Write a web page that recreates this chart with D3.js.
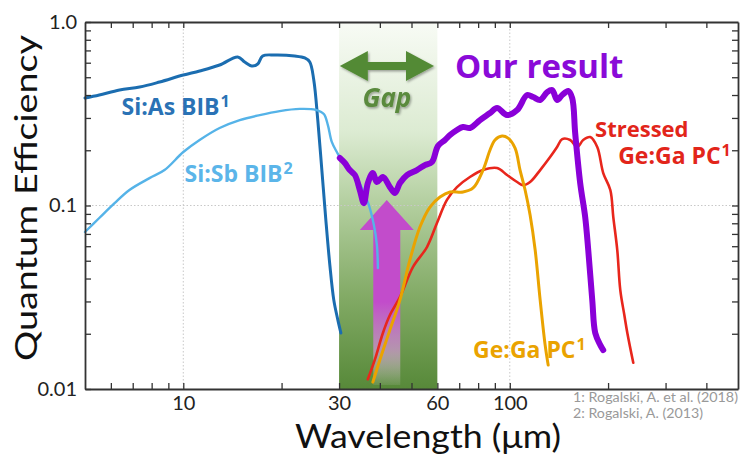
<!DOCTYPE html>
<html>
<head>
<meta charset="utf-8">
<script src="https://cdn.jsdelivr.net/npm/d3@7"></script>
<style>
  body { margin: 0; background: #fff; }
  text { font-family: Lato, "DejaVu Sans", sans-serif; }
  .lbl { font-family: "Open Sans", "Noto Sans", sans-serif; font-weight: 700; }
</style>
</head>
<body>
<svg id="chart" width="740" height="455"></svg>
<script>
// wavelength (um), quantum efficiency
const siAs = [[5.0,0.385],[5.53,0.400],[6.38,0.426],[7.35,0.442],[8.46,0.471],[10,0.514],[11.22,0.541],
  [12.92,0.583],[14.68,0.645],[15.42,0.605],[16.2,0.576],[16.9,0.590],[17.5,0.653],[19.06,0.661],
  [21.94,0.653],[23.55,0.637],[24.4,0.605],[25.1,0.483],[25.82,0.292],[26.57,0.156],[27.33,0.0833],
  [28.11,0.0474],[28.9,0.0306],[29.74,0.0238],[30.38,0.0202]];

const siSb = [[5.0,0.0717],[5.53,0.0855],[6.16,0.103],[6.84,0.1215],[7.88,0.141],[8.76,0.156],[10,0.1956],
  [11.22,0.2275],[12.92,0.2645],[14.89,0.292],[17.14,0.311],[19.74,0.327],[22.74,0.336],[25.46,0.332],
  [26.94,0.315],[27.71,0.275],[28.5,0.222],[29.53,0.1956],[31.25,0.166],[33.54,0.1466],[35.48,0.1215],
  [37.02,0.1006],[38.35,0.0783],[39.17,0.061],[39.45,0.0456]];

const ourResult = [[30.16,0.1815],[31.25,0.1704],[32.36,0.156],[33.54,0.1466],[34.73,0.1215],[35.73,0.103],
  [36.76,0.1326],[38.07,0.1503],[39.17,0.1343],[40.87,0.143],[42.94,0.126],[44.5,0.117],[46.08,0.1326],
  [48.42,0.1466],[51.95,0.156],[54.97,0.166],[57.75,0.1726],[60.26,0.211],[63.31,0.2275],[65.6,0.242],
  [68.9,0.258],[71.9,0.268],[75.5,0.2645],[81.06,0.292],[87.0,0.319],[91.4,0.340],[98.1,0.311],
  [105.3,0.331],[113.0,0.400],[117.9,0.390],[123.9,0.376],[130.2,0.415],[134.8,0.426],[139.6,0.376],
  [144.7,0.400],[151.0,0.421],[155.3,0.385],[158.6,0.248],[164.3,0.1326],[170.2,0.0865],[173.9,0.0572],
  [178.9,0.0305],[182.7,0.0202],[189.2,0.0174],[193.3,0.0163]];

const geGa = [[38.07,0.0109],[39.99,0.0144],[42.94,0.0210],[46.08,0.0305],[49.44,0.0505],[53.06,0.0763],
  [56.96,0.0981],[61.13,0.1112],[65.6,0.1184],[71.9,0.1184],[77.2,0.1246],[82.8,0.156],[87.0,0.2006],
  [90.1,0.2275],[94.7,0.239],[98.8,0.233],[103.8,0.2056],[107.5,0.156],[111.4,0.1215],[115.4,0.0887],
  [119.6,0.0572],[123.9,0.0305],[128.3,0.0174],[131.1,0.0135]];

const stressedGeGa = [[36.74,0.0113],[38.59,0.0144],[40.87,0.0202],[42.94,0.0253],[46.08,0.0317],
  [50.5,0.0462],[55.76,0.0594],[59.84,0.0803],[64.2,0.1072],[68.9,0.126],[75.5,0.143],[82.8,0.156],
  [91.4,0.160],[98.1,0.1466],[105.3,0.1343],[109.9,0.129],[115.4,0.1343],[123.9,0.156],[132.9,0.1837],
  [139.6,0.2083],[144.7,0.230],[153.1,0.2275],[160.9,0.2083],[167.8,0.2275],[176.3,0.236],[185.3,0.2083],
  [193.3,0.1503],[203.2,0.1215],[207.5,0.0865],[213.4,0.0572],[218.0,0.0346],[224.3,0.0253],
  [229.1,0.0202],[238.9,0.0139]];

const xTicks = [6,7,8,9,10,20,30,40,50,60,70,80,90,100,200,300,400];
const xLabels = [10,30,60,100];
const yTicks = [0.02,0.03,0.04,0.05,0.06,0.07,0.08,0.09,0.1,0.2,0.3,0.4,0.5,0.6,0.7,0.8,0.9];
const yLabels = { 1: "1.0", 0.1: "0.1", 0.01: "0.01" };
const gapRange = [30, 60];
const refs = ["1: Rogalski, A. et al. (2018)", "2: Rogalski, A. (2013)"];

const svg = d3.select("#chart");
const x = d3.scaleLog().domain([5, 500]).range([85, 738]);
const y = d3.scaleLog().domain([0.01, 1]).range([389, 22]);

const defs = svg.append("defs");
const gapGrad = defs.append("linearGradient").attr("id", "gapGrad")
  .attr("x1", 0).attr("y1", 0).attr("x2", 0).attr("y2", 1);
[[0, "#f8fbf5"], [0.3, "#dcebd2"], [0.5, "#b2ce9e"], [0.75, "#82aa65"], [1, "#578939"]]
  .forEach(s => gapGrad.append("stop").attr("offset", s[0]).attr("stop-color", s[1]));

const upGrad = defs.append("linearGradient").attr("id", "upGrad")
  .attr("x1", 0).attr("y1", 0).attr("x2", 0).attr("y2", 1);
[[0, "#c24ccb", 1], [0.55, "#c24ccb", 1], [0.8, "#c890c8", 0.8], [1, "#f0e0f0", 0.1]]
  .forEach(s => upGrad.append("stop").attr("offset", s[0]).attr("stop-color", s[1]).attr("stop-opacity", s[2]));

const shadow = defs.append("filter").attr("id", "shadow").attr("x", "-20%").attr("y", "-20%")
  .attr("width", "140%").attr("height", "160%");
shadow.append("feDropShadow").attr("dx", 1.2).attr("dy", 1.5).attr("stdDeviation", 1)
  .attr("flood-color", "#000").attr("flood-opacity", 0.35);

// gap band
svg.append("rect")
  .attr("x", x(gapRange[0])).attr("y", y(1))
  .attr("width", x(gapRange[1]) - x(gapRange[0])).attr("height", y(0.01) - y(1))
  .attr("fill", "url(#gapGrad)");

// dotted grid
const grid = svg.append("g").attr("stroke", "#c8c8c8").attr("stroke-width", 1).attr("stroke-dasharray", "1.5,2");
[10, 100].forEach(v => grid.append("line").attr("x1", x(v)).attr("x2", x(v)).attr("y1", y(1)).attr("y2", y(0.01)));
grid.append("line").attr("x1", x(5)).attr("x2", x(500)).attr("y1", y(0.1)).attr("y2", y(0.1));

// improvement arrow
const up = { lam: 42.0, tip: 0.107, neck: 0.0735, base: 0.0105, head: 27, shaft: 13.5 };
const ax = x(up.lam);
svg.append("path")
  .attr("d", d3.line()([
    [ax, y(up.tip)], [ax + up.head, y(up.neck)], [ax + up.shaft, y(up.neck)], [ax + up.shaft, y(up.base)],
    [ax - up.shaft, y(up.base)], [ax - up.shaft, y(up.neck)], [ax - up.head, y(up.neck)]
  ]) + "Z")
  .attr("fill", "url(#upGrad)");

// curves
const line = d3.line().x(d => x(d[0])).y(d => y(d[1])).curve(d3.curveCatmullRom.alpha(0.5));
const series = [
  { data: siAs, color: "#1b6db0", width: 3 },
  { data: siSb, color: "#55b3e8", width: 2.4 },
  { data: stressedGeGa, color: "#e8261c", width: 2.6 },
  { data: geGa, color: "#eaa300", width: 3 },
  { data: ourResult, color: "#8a00d8", width: 6 }
];
svg.append("g").selectAll("path").data(series).join("path")
  .attr("d", d => line(d.data))
  .attr("fill", "none")
  .attr("stroke", d => d.color)
  .attr("stroke-width", d => d.width)
  .attr("stroke-linejoin", "round")
  .attr("stroke-linecap", "round");

// gap double arrow
const gapArrow = { from: 30.16, to: 58.6, qe: 0.576, head: 28, half: 15, thick: 4 };
const g1 = x(gapArrow.from), g2 = x(gapArrow.to), gy = y(gapArrow.qe);
svg.append("path")
  .attr("d", d3.line()([
    [g1, gy], [g1 + gapArrow.head, gy - gapArrow.half], [g1 + gapArrow.head, gy - gapArrow.thick],
    [g2 - gapArrow.head, gy - gapArrow.thick], [g2 - gapArrow.head, gy - gapArrow.half], [g2, gy],
    [g2 - gapArrow.head, gy + gapArrow.half], [g2 - gapArrow.head, gy + gapArrow.thick],
    [g1 + gapArrow.head, gy + gapArrow.thick], [g1 + gapArrow.head, gy + gapArrow.half]
  ]) + "Z")
  .attr("fill", "#538a35")
  .attr("filter", "url(#shadow)");

svg.append("text").attr("class", "lbl")
  .attr("x", x(42.03)).attr("y", y(0.344))
  .attr("text-anchor", "middle")
  .attr("font-size", 26).attr("font-style", "italic")
  .attr("fill", "#5a8a3e")
  .attr("filter", "url(#shadow)")
  .text("Gap");

// series labels
const labels = [
  { text: "Si:As BIB", sup: "1", lam: 6.47, qe: 0.311, color: "#2a72b5", size: 23 },
  { text: "Si:Sb BIB", sup: "2", lam: 10.09, qe: 0.134, color: "#5bb5e9", size: 23 },
  { text: "Our result", sup: "", lam: 67.9, qe: 0.495, color: "#8a0ad8", size: 33 },
  { text: "Stressed", sup: "", lam: 182.5, qe: 0.236, color: "#e2251a", size: 22 },
  { text: "Ge:Ga PC", sup: "1", lam: 214.8, qe: 0.168, color: "#e2251a", size: 23 },
  { text: "Ge:Ga PC", sup: "1", lam: 77.2, qe: 0.01475, color: "#eaa300", size: 23 }
];
labels.forEach(l => {
  const t = svg.append("text").attr("class", "lbl")
    .attr("x", x(l.lam)).attr("y", y(l.qe))
    .attr("font-size", l.size).attr("fill", l.color);
  t.append("tspan").text(l.text);
  if (l.sup) t.append("tspan").attr("dx", 1).attr("dy", -l.size * 0.36).attr("font-size", l.size * 0.7).text(l.sup);
});

// axes
const axisStyle = g => {
  g.select(".domain").attr("stroke", "#333").attr("stroke-width", 1.8);
  g.selectAll(".tick line").attr("stroke", "#333").attr("stroke-width", 1.3);
  g.selectAll(".tick text").attr("fill", "#222").attr("font-size", 20)
    .attr("font-family", "Lato, 'DejaVu Sans', sans-serif");
};
const xFmt = d => xLabels.includes(d) ? String(d) : "";
svg.append("g").attr("transform", `translate(0,${y(0.01)})`)
  .call(d3.axisBottom(x).tickValues(xTicks).tickFormat(xFmt).tickSize(-6).tickSizeOuter(0).tickPadding(7))
  .call(axisStyle);
svg.append("g").attr("transform", `translate(0,${y(1)})`)
  .call(d3.axisTop(x).tickValues(xTicks).tickFormat("").tickSize(-6).tickSizeOuter(0))
  .call(axisStyle);
svg.append("g").attr("transform", `translate(${x(5)},0)`)
  .call(d3.axisLeft(y).tickValues([0.01, ...yTicks, 1]).tickFormat(d => yLabels[d] || "")
    .tickSize(-6).tickSizeOuter(0).tickPadding(8))
  .call(axisStyle);
svg.append("g").attr("transform", `translate(${x(500)},0)`)
  .call(d3.axisRight(y).tickValues(yTicks).tickFormat("").tickSize(-6).tickSizeOuter(0))
  .call(axisStyle);

// axis titles
svg.append("text")
  .attr("x", 428).attr("y", 448)
  .attr("text-anchor", "middle")
  .attr("font-size", 33).attr("fill", "#111")
  .attr("textLength", 266).attr("lengthAdjust", "spacingAndGlyphs")
  .text("Wavelength (μm)");
svg.append("text")
  .attr("transform", "translate(37,198) rotate(-90)")
  .attr("text-anchor", "middle")
  .attr("font-size", 31).attr("fill", "#111")
  .attr("textLength", 326).attr("lengthAdjust", "spacingAndGlyphs")
  .text("Quantum Efficiency");

// references
const refLen = [165, 130];
svg.append("g").selectAll("text").data(refs).join("text")
  .attr("x", 573).attr("y", (d, i) => 402 + i * 15.5)
  .attr("font-size", 12.5).attr("fill", "#999")
  .attr("textLength", (d, i) => refLen[i]).attr("lengthAdjust", "spacingAndGlyphs")
  .text(d => d);
</script>
</body>
</html>
